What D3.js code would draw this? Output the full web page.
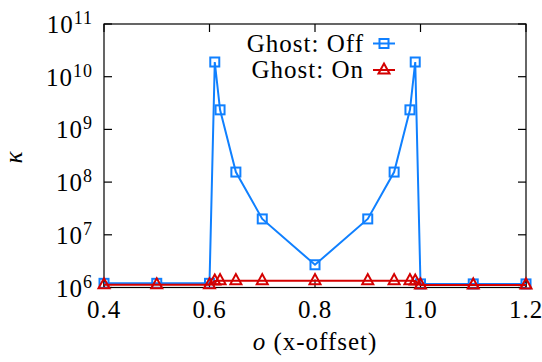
<!DOCTYPE html>
<html>
<head>
<meta charset="utf-8">
<script src="https://cdn.jsdelivr.net/npm/d3@7"></script>
</head>
<body style="margin:0">
<script>
// x offsets and kappa values
const offsets = [0.4, 0.5, 0.6, 0.61, 0.62, 0.65, 0.7, 0.8, 0.9, 0.95, 0.98, 0.99, 1.0, 1.1, 1.2];
const ghostOff = [1.2e6, 1.2e6, 1.2e6, 1.9e10, 2.35e9, 1.55e8, 2.0e7, 2.7e6, 2.0e7, 1.55e8, 2.35e9, 1.9e10, 1.17e6, 1.17e6, 1.17e6];
const ghostOn = [1.13e6, 1.13e6, 1.13e6, 1.33e6, 1.35e6, 1.35e6, 1.35e6, 1.35e6, 1.35e6, 1.35e6, 1.35e6, 1.33e6, 1.12e6, 1.12e6, 1.12e6];
const xTicks = [0.4, 0.6, 0.8, 1.0, 1.2];
const yExps = [6, 7, 8, 9, 10, 11];
const seriesNames = ["Ghost: Off", "Ghost: On"];

const width = 542, height = 362;
const margin = { top: 24, right: 16, bottom: 74.5, left: 104 };
const blue = "#1080ff", red = "#d40000";
const fs = 25;

const svg = d3.select("body").append("svg")
  .attr("width", width)
  .attr("height", height);

function label(g, px, py, anchor) {
  return g.append("text")
    .attr("x", px).attr("y", py)
    .attr("text-anchor", anchor)
    .attr("font-family", "Liberation Serif")
    .attr("font-size", fs)
    .attr("letter-spacing", 1);
}

const x = d3.scaleLinear().domain([0.4, 1.2]).range([margin.left, width - margin.right]);
const y = d3.scaleLog().domain([1e6, 1e11]).range([height - margin.bottom, margin.top]);

const tickLen = 8;
const axes = svg.append("g").attr("stroke", "#000").attr("stroke-width", 1.2);

// ticks on all four sides, pointing inwards
xTicks.forEach(t => {
  axes.append("line").attr("x1", x(t)).attr("x2", x(t))
    .attr("y1", y.range()[0]).attr("y2", y.range()[0] - tickLen);
  axes.append("line").attr("x1", x(t)).attr("x2", x(t))
    .attr("y1", y.range()[1]).attr("y2", y.range()[1] + tickLen);
  label(svg, x(t), y.range()[0] + 30, "middle").text(t.toFixed(1));
});

yExps.forEach(e => {
  const v = Math.pow(10, e);
  axes.append("line").attr("x1", x.range()[0]).attr("x2", x.range()[0] + tickLen)
    .attr("y1", y(v)).attr("y2", y(v));
  axes.append("line").attr("x1", x.range()[1]).attr("x2", x.range()[1] - tickLen)
    .attr("y1", y(v)).attr("y2", y(v));
  const lbl = label(svg, x.range()[0] - 11, y(v) + 9, "end");
  lbl.append("tspan").text("10");
  lbl.append("tspan").attr("dy", -9).attr("font-size", 18).text(e);
});

axes.append("rect")
  .attr("x", x.range()[0]).attr("y", y.range()[1])
  .attr("width", x.range()[1] - x.range()[0])
  .attr("height", y.range()[0] - y.range()[1])
  .attr("fill", "none");

const line = d3.line().x(d => x(d[0])).y(d => y(d[1]));
const offData = offsets.map((o, i) => [o, ghostOff[i]]);
const onData = offsets.map((o, i) => [o, ghostOn[i]]);

function square(g, cx, cy, color) {
  g.append("rect").attr("x", cx - 4.5).attr("y", cy - 4.5)
    .attr("width", 9).attr("height", 9)
    .attr("fill", "none").attr("stroke", color).attr("stroke-width", 2);
}
function triangle(g, cx, cy, color) {
  g.append("path")
    .attr("d", `M${cx - 5.5},${cy + 3.5}L${cx + 5.5},${cy + 3.5}L${cx},${cy - 6.5}Z`)
    .attr("fill", "none").attr("stroke", color).attr("stroke-width", 2)
    .attr("stroke-linejoin", "miter");
}

const plot = svg.append("g");
plot.append("path").datum(offData).attr("d", line)
  .attr("fill", "none").attr("stroke", blue).attr("stroke-width", 2);
offData.forEach(d => square(plot, x(d[0]), y(d[1]), blue));
plot.append("path").datum(onData).attr("d", line)
  .attr("fill", "none").attr("stroke", red).attr("stroke-width", 2);
onData.forEach(d => triangle(plot, x(d[0]), y(d[1]), red));

// legend
const legend = svg.append("g");
[[seriesNames[0], blue, square, 43.5], [seriesNames[1], red, triangle, 70]].forEach(([name, c, mark, ly]) => {
  label(legend, 364, ly + 8, "end").text(name);
  legend.append("line").attr("x1", 373).attr("x2", 395).attr("y1", ly).attr("y2", ly)
    .attr("stroke", c).attr("stroke-width", 2);
  mark(legend, 384, ly, c);
});

// axis titles
const xl = label(svg, 315, 350, "middle");
xl.append("tspan").attr("font-style", "italic").text("o");
xl.append("tspan").text(" (x-offset)");

label(svg, 0, 0, "middle")
  .attr("transform", "translate(22,157) rotate(-90)")
  .attr("font-style", "italic")
  .text("κ");
</script>
</body>
</html>
